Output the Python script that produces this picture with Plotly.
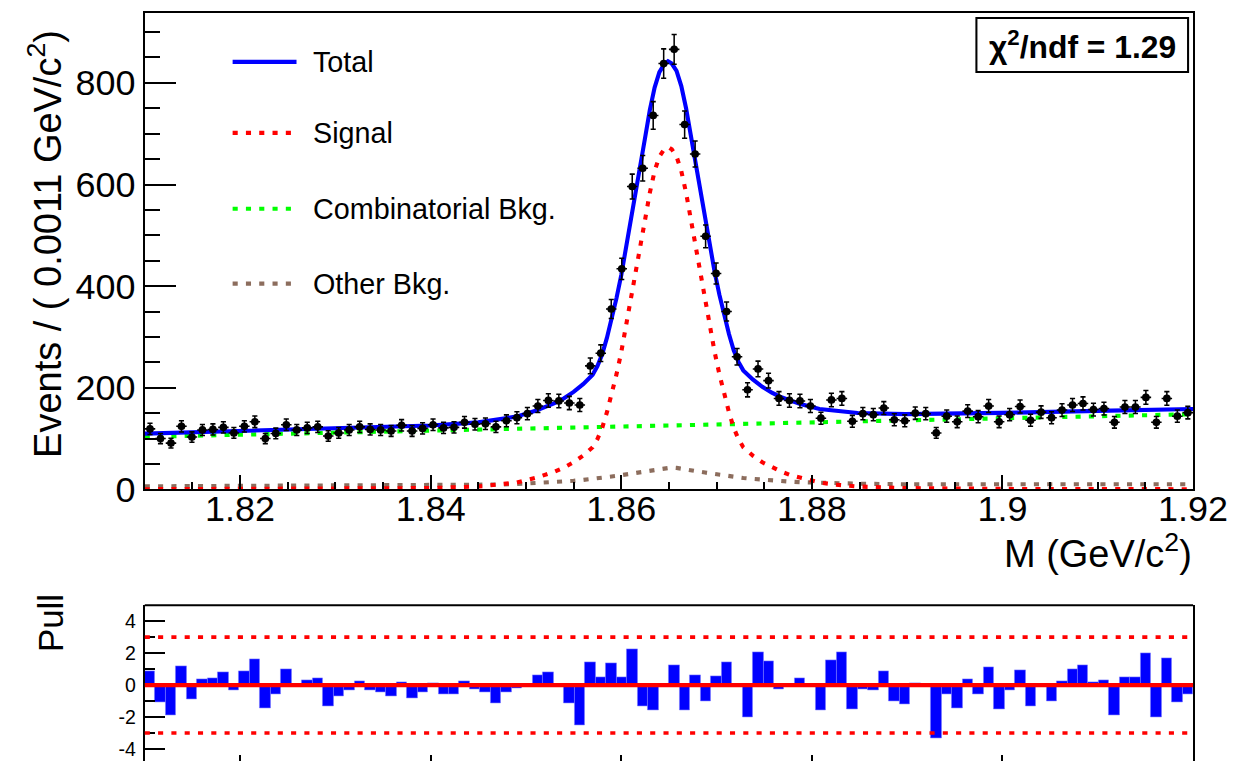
import numpy as np
import plotly.graph_objects as go

# ---------------------------------------------------------------
# Invariant-mass histogram: 100 bins of 0.0011 GeV/c^2 on [1.81, 1.92]
# ---------------------------------------------------------------
m_lo, m_hi, n_bins = 1.81, 1.92, 100
bin_w = (m_hi - m_lo) / n_bins
bin_centers = m_lo + bin_w * (np.arange(n_bins) + 0.5)

events = [
    119, 100, 91, 124, 103, 117, 118, 122, 111, 124,
    133, 100, 110, 127, 117, 121, 123, 105, 111, 117,
    123, 118, 117, 115, 126, 115, 120, 127, 121, 122,
    132, 128, 129, 123, 135, 141, 149, 164, 175, 174,
    170, 166, 243, 268, 355, 434, 596, 632, 736, 838,
    866, 718, 660, 498, 425, 350, 261, 196, 237, 214,
    179, 175, 174, 164, 140, 176, 179, 134, 149, 147,
    160, 137, 135, 150, 149, 111, 144, 133, 154, 143,
    164, 133, 147, 163, 136, 152, 141, 156, 166, 169,
    157, 159, 132, 162, 162, 181, 132, 179, 144, 151,
]

pulls = [
    0.90, -1.04, -1.90, 1.19, -0.88, 0.40, 0.44, 0.81, -0.33, 0.85,
    1.65, -1.44, -0.54, 1.00, 0.05, 0.31, 0.42, -1.29, -0.71, -0.29,
    0.23, -0.35, -0.46, -0.67, 0.19, -0.81, -0.44, 0.12, -0.54, -0.54,
    0.25, -0.27, -0.42, -1.13, -0.42, -0.20, 0.04, 0.65, 0.81, 0.03,
    -1.13, -2.50, 1.46, 0.48, 1.38, 0.50, 2.25, -1.31, -1.58, 0.03,
    1.25, -1.54, 0.63, -0.98, 0.58, 1.44, 0.05, -1.98, 2.06, 1.50,
    -0.25, -0.05, 0.44, 0.05, -1.54, 1.56, 2.08, -1.48, -0.27, -0.35,
    0.85, -0.98, -1.17, 0.13, 0.03, -3.33, -0.58, -1.42, 0.38, -0.54,
    1.13, -1.48, -0.33, 0.92, -1.29, 0.03, -0.98, 0.25, 1.02, 1.25,
    0.19, 0.31, -1.88, 0.50, 0.50, 1.98, -1.98, 1.71, -1.06, -0.60,
]

# ---------------------------------------------------------------
# Fit components sampled along the mass axis (events per bin)
# ---------------------------------------------------------------
curve_m = [
    1.8100, 1.8200, 1.8300, 1.8350, 1.8400, 1.8450, 1.8470, 1.8490, 1.8510, 1.8520,
    1.8530, 1.8540, 1.8550, 1.8560, 1.8570, 1.8575, 1.8580, 1.8585, 1.8590, 1.8595,
    1.8600, 1.8605, 1.8610, 1.8615, 1.8620, 1.8625, 1.8630, 1.8635, 1.8640, 1.8645,
    1.8649, 1.8653, 1.8658, 1.8663, 1.8668, 1.8673, 1.8678, 1.8683, 1.8688, 1.8693,
    1.8698, 1.8703, 1.8708, 1.8713, 1.8718, 1.8723, 1.8728, 1.8738, 1.8748, 1.8758,
    1.8768, 1.8778, 1.8788, 1.8808, 1.8828, 1.8848, 1.8898, 1.8948, 1.8998, 1.9100,
    1.9200,
]
signal_pdf = [
    0.3, 0.5, 0.9, 1.3, 2.5, 5.6, 8.7, 13.4, 22.5, 27.7,
    34.8, 43.0, 53.3, 66.5, 83.0, 99.0, 121.0, 152.0, 187.6, 226.4,
    270.0, 320.4, 372.6, 425.0, 476.0, 531.0, 584.0, 626.4, 655.2, 669.2,
    674.0, 669.2, 655.2, 626.4, 584.0, 531.0, 476.0, 425.0, 372.6, 320.4,
    270.0, 226.4, 187.6, 152.0, 121.0, 99.0, 83.0, 66.5, 53.3, 43.0,
    34.8, 27.7, 22.5, 13.4, 8.7, 5.6, 2.5, 1.3, 0.9, 0.5,
    0.3,
]
comb_bkg = [
    103.5, 107.5, 111.6, 113.6, 115.6, 117.7, 118.5, 119.3, 120.1, 120.5,
    120.9, 121.3, 121.7, 122.1, 122.5, 122.7, 122.9, 123.1, 123.3, 123.5,
    123.7, 123.9, 124.1, 124.3, 124.5, 124.7, 124.9, 125.1, 125.3, 125.5,
    125.7, 125.8, 126.0, 126.2, 126.4, 126.6, 126.8, 127.0, 127.2, 127.4,
    127.6, 127.8, 128.0, 128.2, 128.4, 128.6, 128.8, 129.2, 129.6, 130.0,
    130.4, 130.8, 131.2, 132.0, 132.8, 133.6, 135.6, 137.6, 139.6, 143.9,
    147.9,
]
other_bkg = [
    6.0, 6.5, 7.0, 7.2, 7.5, 8.5, 9.4, 10.5, 12.0, 13.0,
    14.0, 15.0, 16.8, 18.5, 20.3, 21.1, 22.0, 23.5, 25.0, 26.5,
    28.0, 29.5, 31.0, 32.8, 34.5, 36.3, 38.0, 39.3, 40.5, 41.8,
    42.8, 43.0, 42.2, 41.0, 39.8, 38.0, 36.2, 34.5, 33.0, 31.5,
    30.0, 28.5, 27.0, 25.5, 24.2, 23.3, 22.4, 20.6, 18.8, 17.2,
    16.1, 15.1, 14.1, 12.8, 12.0, 11.2, 10.0, 10.0, 10.0, 10.0,
    10.0,
]
total_pdf = np.array(signal_pdf) + np.array(comb_bkg) + np.array(other_bkg)

chi2_ndf = 1.29

legend_entries = ["Total", "Signal", "Combinatorial Bkg.", "Other Bkg."]

# ---------------------------------------------------------------
# Canvas: positions are laid out on a 1235 x 762 grid and expressed as
# paper fractions; K converts grid pixels into figure pixels.
# ---------------------------------------------------------------
GW, GH = 1235, 762
W, H = 1268, 782
K = W / GW
FONT = "Liberation Sans, Arial, Helvetica, sans-serif"
BLUE, RED, GREEN, BROWN = "#0000ff", "#ff0000", "#00ff00", "#8c6d5d"
DOTS = f"{5 * K:.1f}px,{8 * K:.1f}px"


def fx(px):
    return px / GW


def fy(px):
    return 1 - px / GH


def s(v):
    return v * K


fig = go.Figure()

# fit components
fig.add_trace(go.Scatter(x=curve_m, y=comb_bkg, mode="lines",
                         line=dict(color=GREEN, width=s(4), dash=DOTS),
                         xaxis="x", yaxis="y", hoverinfo="skip"))
fig.add_trace(go.Scatter(x=curve_m, y=other_bkg, mode="lines",
                         line=dict(color=BROWN, width=s(4), dash=DOTS),
                         xaxis="x", yaxis="y", hoverinfo="skip"))
fig.add_trace(go.Scatter(x=curve_m, y=signal_pdf, mode="lines",
                         line=dict(color=RED, width=s(4), dash=DOTS),
                         xaxis="x", yaxis="y", hoverinfo="skip"))
fig.add_trace(go.Scatter(x=curve_m, y=total_pdf, mode="lines",
                         line=dict(color=BLUE, width=s(4)),
                         xaxis="x", yaxis="y", hoverinfo="skip"))

# data points with Poisson errors
fig.add_trace(go.Scatter(
    x=bin_centers, y=events, mode="markers",
    marker=dict(symbol="circle", size=s(7.5), color="black"),
    error_y=dict(type="data", array=np.sqrt(events), color="black",
                 thickness=s(1.5), width=s(2.5)),
    error_x=dict(type="constant", value=bin_w / 2, color="black",
                 thickness=s(1.5), width=0),
    xaxis="x", yaxis="y"))

# pull distribution
fig.add_trace(go.Bar(
    x=bin_centers, y=pulls, width=bin_w,
    marker=dict(color=BLUE, line=dict(color="#7878ff", width=0.6)),
    xaxis="x2", yaxis="y2"))

dom_x = [fx(145), fx(1195)]
axis_common = dict(showgrid=False, zeroline=False, showline=True, mirror=True,
                   linecolor="black", linewidth=s(2), ticks="inside",
                   tickcolor="black", tickwidth=s(1.5),
                   tickfont=dict(family=FONT, size=s(35), color="black"))

fig.update_layout(
    width=W, height=H,
    margin=dict(l=0, r=0, t=0, b=0),
    paper_bgcolor="white", plot_bgcolor="white",
    showlegend=False, bargap=0,
    font=dict(family=FONT, color="black"),
    xaxis=dict(axis_common, domain=dom_x, anchor="y", range=[m_lo, m_hi],
               tick0=1.82, dtick=0.02, ticklen=s(14),
               ticklabelstandoff=int(round(s(-14))),
               minor=dict(dtick=0.005, ticklen=s(7), ticks="inside",
                          tickcolor="black", tickwidth=s(1.5))),
    yaxis=dict(axis_common, domain=[fy(490), fy(13)], anchor="x",
               range=[0, 937.6], tick0=0, dtick=200, ticklen=s(30),
               ticklabelstandoff=0,
               minor=dict(dtick=50, ticklen=s(15), ticks="inside",
                          tickcolor="black", tickwidth=s(1.5))),
    xaxis2=dict(domain=dom_x, anchor="y2", range=[m_lo, m_hi],
                showgrid=False, zeroline=False, showline=False,
                ticks="inside", tick0=1.82, dtick=0.02, ticklen=s(6),
                tickcolor="black", tickwidth=s(1.5), showticklabels=False),
    yaxis2=dict(domain=[0, fy(606)], anchor="x2", range=[-4.75, 5.0],
                showgrid=False, zeroline=False, showline=True, mirror=True,
                linecolor="black", linewidth=s(2), ticks="inside",
                tickcolor="black", tickwidth=s(1.5), ticklen=s(20),
                tickvals=[-4, -2, 0, 2, 4], ticktext=["-4", "-2", "0", "2", "4"],
                ticklabelstandoff=3,
                tickfont=dict(family=FONT, size=s(19), color="black"),
                minor=dict(dtick=1, ticklen=s(10), ticks="inside",
                           tickcolor="black", tickwidth=s(1.5))),
)

shapes = []
# top edge of the pull frame
shapes.append(dict(type="line", xref="x2 domain", yref="y2 domain",
                   x0=0, x1=1, y0=1, y1=1, line=dict(color="black", width=s(2))))
# pull reference lines
for lvl in (3, -3):
    shapes.append(dict(type="line", xref="x2 domain", yref="y2",
                       x0=0, x1=1, y0=lvl, y1=lvl,
                       line=dict(color=RED, width=s(3.5), dash=DOTS)))
shapes.append(dict(type="line", xref="x2 domain", yref="y2",
                   x0=0, x1=1, y0=0, y1=0, line=dict(color=RED, width=s(4))))

# legend samples
leg_styles = [dict(color=BLUE, width=s(4)),
              dict(color=RED, width=s(4), dash=DOTS),
              dict(color=GREEN, width=s(4), dash=DOTS),
              dict(color=BROWN, width=s(4), dash=DOTS)]
leg_rows = [62, 133, 209, 284]
for yy, st in zip(leg_rows, leg_styles):
    shapes.append(dict(type="line", xref="paper", yref="paper",
                       x0=fx(233), x1=fx(297), y0=fy(yy), y1=fy(yy), line=st))

# chi2 box
shapes.append(dict(type="rect", xref="paper", yref="paper",
                   x0=fx(978), x1=fx(1190), y0=fy(72), y1=fy(18),
                   line=dict(color="black", width=s(2)), fillcolor="white"))

annotations = []
for yy, txt in zip(leg_rows, legend_entries):
    annotations.append(dict(x=fx(312), y=fy(yy), xref="paper", yref="paper",
                            text=txt, showarrow=False, xanchor="left",
                            yanchor="middle",
                            font=dict(family=FONT, size=s(28), color="black")))

annotations.append(dict(x=fx(1084), y=fy(45), xref="paper", yref="paper",
                        text=f"<b>χ<sup>2</sup>/ndf = {chi2_ndf:.2f}</b>",
                        showarrow=False, xanchor="center", yanchor="middle",
                        font=dict(family=FONT, size=s(31), color="black")))

annotations.append(dict(x=fx(45), y=fy(28), xref="paper", yref="paper",
                        text="Events / ( 0.0011 GeV/c<sup>2</sup>)",
                        textangle=-90, showarrow=False,
                        xanchor="center", yanchor="top",
                        font=dict(family=FONT, size=s(37), color="black")))
annotations.append(dict(x=fx(1196), y=fy(552), xref="paper", yref="paper",
                        text="M (GeV/c<sup>2</sup>)", showarrow=False,
                        xanchor="right", yanchor="middle",
                        font=dict(family=FONT, size=s(37), color="black")))
annotations.append(dict(x=fx(50), y=fy(624), xref="paper", yref="paper",
                        text="Pull", textangle=-90, showarrow=False,
                        xanchor="center", yanchor="middle",
                        font=dict(family=FONT, size=s(34), color="black")))

fig.update_layout(shapes=shapes, annotations=annotations)

page_js = """
document.documentElement.style.margin = '0';
document.body.style.margin = '0';
"""
fig.write_html("out.html", post_script=page_js)
